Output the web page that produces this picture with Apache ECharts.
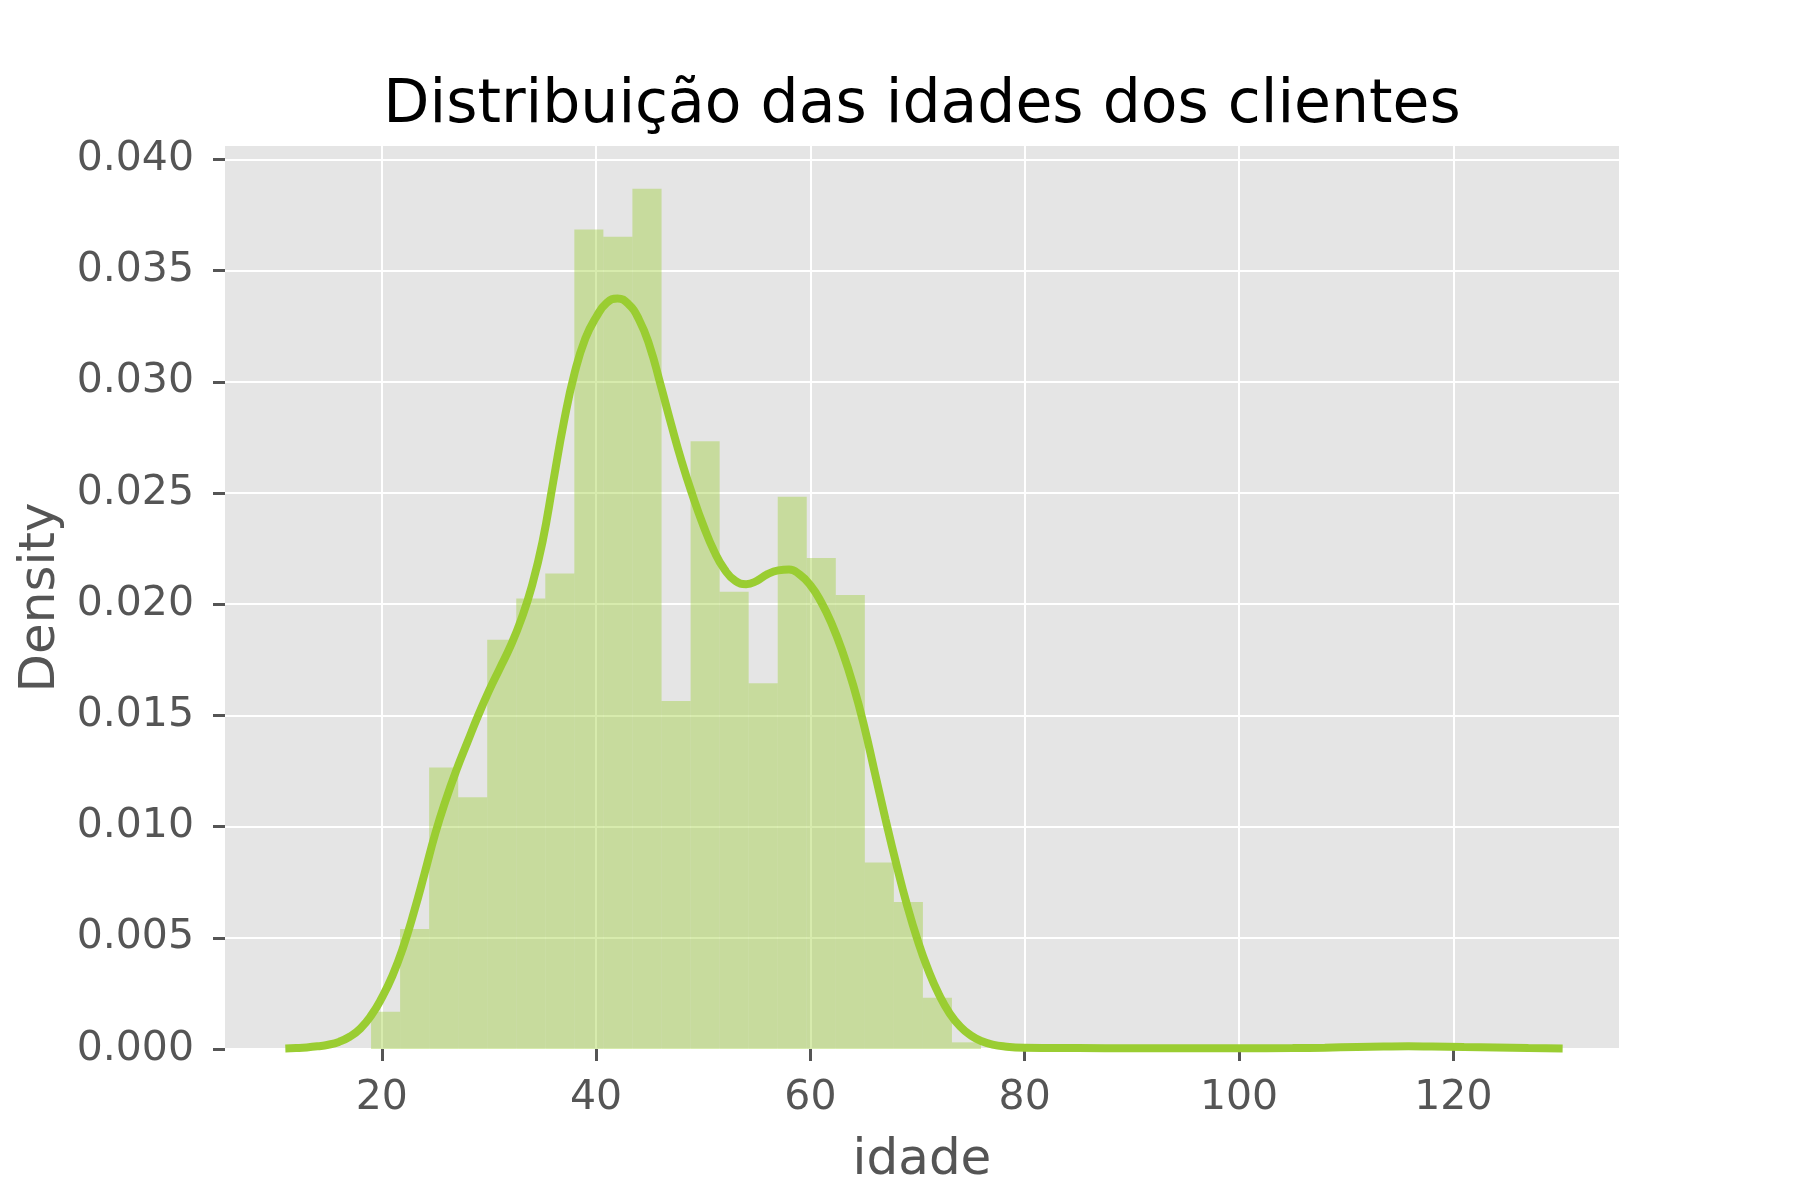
<!DOCTYPE html>
<html>
<head>
<meta charset="utf-8">
<script src="https://cdn.jsdelivr.net/npm/echarts@6/dist/echarts.min.js"></script>
<style>
  html, body { margin: 0; padding: 0; background: #ffffff; }
  #chart { width: 1800px; height: 1200px; }
</style>
</head>
<body>
<div id="chart"></div>
<script>
// ---- Data ----
const binLeft  = [19.00, 21.71, 24.42, 27.13, 29.84, 32.55, 35.26, 37.97, 40.68, 43.39, 46.11,
                  48.82, 51.53, 54.24, 56.95, 59.66, 62.37, 65.08, 67.79, 70.50, 73.21,
                  113.87, 119.29];
const binRight = [21.71, 24.42, 27.13, 29.84, 32.55, 35.26, 37.97, 40.68, 43.39, 46.11, 48.82,
                  51.53, 54.24, 56.95, 59.66, 62.37, 65.08, 67.79, 70.50, 73.21, 75.92,
                  116.58, 122.00];
const binDensity = [0.00167, 0.0054, 0.01266, 0.01132, 0.0184, 0.02025, 0.02138, 0.03685, 0.03652,
                    0.03868, 0.01565, 0.02733, 0.02056, 0.01644, 0.02483, 0.02208, 0.02041,
                    0.00839, 0.00661, 0.0023, 0.0003,
                    0.00012, 0.00012];

// KDE curve (x = idade, y = density)
const kdeX = [11, 12, 13, 14, 15, 16, 17, 18, 19, 20, 21, 22, 23, 24, 25, 26, 27, 28, 29, 30,
              31, 32, 33, 34, 35, 36, 37, 38, 39, 40, 41, 42, 43, 44, 45, 46, 47, 48, 49, 50,
              51, 52, 53, 54, 55, 56, 57, 58, 59, 60, 61, 62, 63, 64, 65, 66, 67, 68, 69, 70,
              71, 72, 73, 74, 75, 76, 77, 78, 80, 85, 90, 95, 100, 105, 108, 111, 113.5, 115.8,
              118, 121, 124, 127, 130.2];
const kdeY = [0.00002, 0.00004, 0.00007, 0.00012, 0.00019, 0.00032, 0.00055, 0.00092, 0.0015,
              0.0023, 0.0033, 0.00458, 0.00615, 0.0079, 0.0097, 0.01123, 0.01258, 0.0138, 0.0150,
              0.0161, 0.0171, 0.0181, 0.0193, 0.0208, 0.0228, 0.0255, 0.0282, 0.0304, 0.03195,
              0.0329, 0.03355, 0.03374, 0.0335, 0.0328, 0.0316, 0.0299, 0.0281, 0.0264, 0.0249,
              0.02355, 0.0224, 0.02155, 0.02105, 0.0209, 0.02105, 0.02135, 0.02152, 0.02156,
              0.02133, 0.02085, 0.0201, 0.0191, 0.01785, 0.01635, 0.01455, 0.01245, 0.01035,
              0.00835, 0.0065, 0.0049, 0.00355, 0.00245, 0.0016, 0.0010, 0.0006, 0.00035, 0.0002,
              0.00012, 0.00006, 0.00004, 0.00003, 0.00003, 0.00003, 0.00004, 0.00006, 0.00009,
              0.00011, 0.00012, 0.00011, 0.00009, 0.00007, 0.00004, 0.00002];

const xTicks = [20, 40, 60, 80, 100, 120];
const yTicks = [0, 0.005, 0.010, 0.015, 0.020, 0.025, 0.030, 0.035, 0.040];

const titleText = 'Distribuição das idades dos clientes';
const xName = 'idade';
const yName = 'Density';

// ---- Build series data ----
const histData = binLeft.map((l, i) => [l, binRight[i], binDensity[i]]);
const kdeData = kdeX.map((x, i) => [x, kdeY[i]]);

const FONT = 'DejaVu Sans';
const chart = echarts.init(document.getElementById('chart'), null, { renderer: 'canvas' });

chart.setOption({
  backgroundColor: '#ffffff',
  animation: false,
  title: {
    text: titleText,
    left: 917,
    textAlign: 'center',
    top: 71,
    textStyle: { fontFamily: FONT, fontSize: 60, fontWeight: 'normal', color: '#000000' }
  },
  grid: {
    left: 225, right: 181, top: 146, bottom: 151,
    show: true, backgroundColor: '#E5E5E5', borderWidth: 0,
    containLabel: false
  },
  xAxis: {
    type: 'value',
    min: 5.37, max: 135.46,
    name: xName,
    nameLocation: 'middle',
    nameGap: 87,
    nameTextStyle: { fontFamily: FONT, fontSize: 50, color: '#555555' },
    axisLine: { show: false },
    axisTick: { show: true, length: 12, customValues: xTicks, lineStyle: { color: '#555555', width: 3 } },
    axisLabel: { customValues: xTicks, fontFamily: FONT, fontSize: 41, color: '#555555', margin: 29 },
    splitLine: { show: true, lineStyle: { color: '#ffffff', width: 2 } }
  },
  yAxis: {
    type: 'value',
    min: 0, max: 0.0406,
    name: yName,
    nameLocation: 'middle',
    nameGap: 158,
    nameRotate: 90,
    nameTextStyle: { fontFamily: FONT, fontSize: 50, color: '#555555' },
    axisLine: { show: false },
    axisTick: { show: true, length: 12, customValues: yTicks, lineStyle: { color: '#555555', width: 3 } },
    axisLabel: {
      customValues: yTicks, fontFamily: FONT, fontSize: 41, color: '#555555', margin: 31,
      formatter: v => Number(v).toFixed(3)
    },
    splitLine: { show: true, lineStyle: { color: '#ffffff', width: 2 } }
  },
  series: [
    {
      type: 'custom',
      clip: true,
      data: histData,
      encode: { x: [0, 1], y: 2 },
      renderItem: function (params, api) {
        const p0 = api.coord([api.value(0), api.value(2)]);
        const p1 = api.coord([api.value(1), 0]);
        return {
          type: 'rect',
          shape: { x: p0[0], y: p0[1], width: p1[0] - p0[0], height: p1[1] - p0[1] },
          style: { fill: 'rgba(154,205,50,0.4)' }
        };
      },
      z: 2
    },
    {
      type: 'line',
      data: kdeData,
      smooth: 0.5,
      showSymbol: false,
      clip: true,
      lineStyle: { color: '#9ACD32', width: 8 },
      z: 3
    }
  ]
});
</script>
</body>
</html>
